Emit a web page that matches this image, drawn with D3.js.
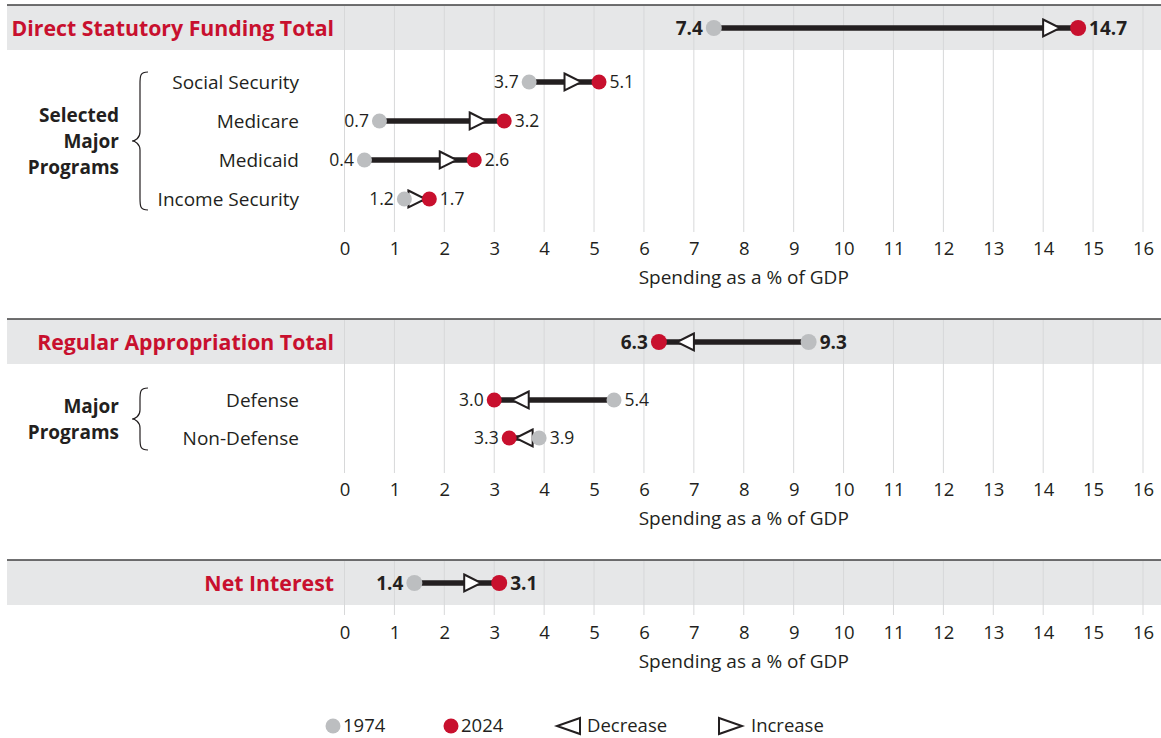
<!DOCTYPE html>
<html>
<head>
<meta charset="utf-8">
<script src="https://cdn.jsdelivr.net/npm/d3@7"></script>
<style>
  body { margin: 0; background: #fff; }
  svg { display: block; font-family: "Open Sans", "Noto Sans", sans-serif; }
</style>
</head>
<body>
<svg id="chart" width="1161" height="738"></svg>
<script>
// ---- data ----
const tickValues = [0, 1, 2, 3, 4, 5, 6, 7, 8, 9, 10, 11, 12, 13, 14, 15, 16]
const axisTitle = 'Spending as a % of GDP'

const dsfTitle = 'Direct Statutory Funding Total'
const dsfTotal = [7.4, 14.7] // 1974, 2024
const dsfRows = ['Social Security', 'Medicare', 'Medicaid', 'Income Security']
const dsf1974 = [3.7, 0.7, 0.4, 1.2]
const dsf2024 = [5.1, 3.2, 2.6, 1.7]
const dsfGroup = ['Selected', 'Major', 'Programs']

const raTitle = 'Regular Appropriation Total'
const raTotal = [9.3, 6.3]
const raRows = ['Defense', 'Non-Defense']
const ra1974 = [5.4, 3.9]
const ra2024 = [3.0, 3.3]
const raGroup = ['Major', 'Programs']

const niTitle = 'Net Interest'
const niTotal = [1.4, 3.1]

const legendItems = ['1974', '2024', 'Decrease', 'Increase']

// ---- setup ----
const svg = d3.select('#chart')
const ink = '#231f20'
const grey = '#bcbec0'
const red = '#c8102e'
const x = d3.scaleLinear().domain([0, 16]).range([344.5, 1143])

function brace(g, y0, y1) {
  let xr = 148, xs = 140, xp = 132
  let mid = (y0 + y1) / 2
  let p = `M${xr},${y0} C${xs},${y0} ${xs},${y0 + 4} ${xs},${y0 + 12} L${xs},${mid - 9}` +
    ` C${xs},${mid - 3} ${xp + 3},${mid} ${xp},${mid} C${xp + 3},${mid} ${xs},${mid + 3} ${xs},${mid + 9}` +
    ` L${xs},${y1 - 12} C${xs},${y1 - 4} ${xs},${y1} ${xr},${y1}`
  g.append('path').attr('d', p).attr('fill', 'none').attr('stroke', ink).attr('stroke-width', 1.2)
}

// dumbbell: a = 1974 value, b = 2024 value
function dumbbell(g, y, a, b, big) {
  let r = big ? 8 : 7.5
  let tw = 17
  let th = 17
  let up = b > a
  let dir = up ? 1 : -1
  g.append('line')
    .attr('x1', x(a)).attr('x2', x(b)).attr('y1', y).attr('y2', y)
    .attr('stroke', ink).attr('stroke-width', 5.5)
  // arrow triangle: sits just before the 2024 dot, or centred when the gap is short
  let tip
  if (Math.abs(x(b) - x(a)) < 50) {
    tip = (x(a) + x(b)) / 2 + dir * tw / 2
  } else {
    tip = x(b) - dir * (r + 10)
  }
  let base = tip - dir * tw
  g.append('path')
    .attr('d', `M${base},${y - th / 2} L${tip},${y} L${base},${y + th / 2} Z`)
    .attr('fill', '#fff').attr('stroke', ink).attr('stroke-width', 2).attr('stroke-linejoin', 'miter')
  g.append('circle').attr('cx', x(a)).attr('cy', y).attr('r', r).attr('fill', grey)
  g.append('circle').attr('cx', x(b)).attr('cy', y).attr('r', r).attr('fill', red)
  let lo = Math.min(a, b), hi = Math.max(a, b)
  let fmt = d3.format('.1f')
  let fs = big ? 19 : 17.5
  g.append('text').attr('x', x(lo) - r - 3).attr('y', y).attr('dy', '0.36em')
    .attr('text-anchor', 'end').attr('font-size', fs).attr('font-weight', big ? 700 : 400)
    .attr('fill', ink).text(fmt(lo))
  g.append('text').attr('x', x(hi) + r + 3).attr('y', y).attr('dy', '0.36em')
    .attr('text-anchor', 'start').attr('font-size', fs).attr('font-weight', big ? 700 : 400)
    .attr('fill', ink).text(fmt(hi))
}

function panel(top, title, total, rows, v74, v24, group, rowYs, gridBottom, axisY, braceY) {
  let g = svg.append('g')
  g.append('rect').attr('x', 7).attr('y', top).attr('width', 1154).attr('height', 45).attr('fill', '#e6e7e8')
  g.append('line').attr('x1', 7).attr('x2', 1161).attr('y1', top).attr('y2', top)
    .attr('stroke', '#414042').attr('stroke-width', 1.5)
  g.selectAll('.grid').data(tickValues).enter().append('line')
    .attr('x1', d => x(d)).attr('x2', d => x(d))
    .attr('y1', top + 1).attr('y2', gridBottom)
    .attr('stroke', '#d7d8d9').attr('stroke-width', 1)
  g.append('text').attr('x', 334).attr('y', top + 23).attr('dy', '0.36em')
    .attr('text-anchor', 'end').attr('font-size', 21.3).attr('font-weight', 700)
    .attr('fill', red).text(title)
  dumbbell(g, top + 23, total[0], total[1], true)

  rows.forEach(function (name, i) {
    g.append('text').attr('x', 299).attr('y', rowYs[i]).attr('dy', '0.36em')
      .attr('text-anchor', 'end').attr('font-size', 19).attr('fill', ink).text(name)
    dumbbell(g, rowYs[i], v74[i], v24[i], false)
  })
  if (group) {
    let mid = (braceY[0] + braceY[1]) / 2
    let lh = 26
    group.forEach(function (t, i) {
      g.append('text').attr('x', 119).attr('y', mid + (i - (group.length - 1) / 2) * lh).attr('dy', '0.36em')
        .attr('text-anchor', 'end').attr('font-size', 19).attr('font-weight', 700).attr('fill', ink).text(t)
    })
    brace(g, braceY[0], braceY[1])
  }

  let axis = d3.axisBottom(x).tickValues(tickValues).tickSize(0).tickPadding(0).tickFormat(d3.format('d'))
  let ag = g.append('g').attr('transform', `translate(0,${axisY})`).call(axis)
  ag.select('.domain').remove()
  ag.selectAll('text').attr('font-size', 18.5).attr('font-family', '"Open Sans", "Noto Sans", sans-serif')
    .attr('fill', ink).attr('dy', '0.36em').attr('y', 0)
  g.append('text').attr('x', x(8)).attr('y', axisY + 29).attr('dy', '0.36em')
    .attr('text-anchor', 'middle').attr('font-size', 19).attr('fill', ink).text(axisTitle)
}

panel(5, dsfTitle, dsfTotal, dsfRows, dsf1974, dsf2024, dsfGroup, [82, 121, 160, 199], 232, 248, [72, 210])
panel(319, raTitle, raTotal, raRows, ra1974, ra2024, raGroup, [400, 438], 473, 489, [388, 450])
panel(560, niTitle, niTotal, [], [], [], null, [], 615, 632, null)

// ---- legend ----
let lg = svg.append('g').attr('transform', 'translate(0,725)')
lg.append('circle').attr('cx', 333).attr('cy', 1).attr('r', 7.5).attr('fill', grey)
lg.append('text').attr('x', 343).attr('dy', '0.36em').attr('font-size', 18.5).attr('fill', ink).text(legendItems[0])
lg.append('circle').attr('cx', 451).attr('cy', 1).attr('r', 7.5).attr('fill', red)
lg.append('text').attr('x', 461).attr('dy', '0.36em').attr('font-size', 18.5).attr('fill', ink).text(legendItems[1])
lg.append('path').attr('d', 'M580,-7 L557,1 L580,9 Z').attr('fill', '#fff').attr('stroke', ink).attr('stroke-width', 2)
lg.append('text').attr('x', 587).attr('dy', '0.36em').attr('font-size', 18.5).attr('fill', ink).text(legendItems[2])
lg.append('path').attr('d', 'M719,-7 L742,1 L719,9 Z').attr('fill', '#fff').attr('stroke', ink).attr('stroke-width', 2)
lg.append('text').attr('x', 751).attr('dy', '0.36em').attr('font-size', 18.5).attr('fill', ink).text(legendItems[3])
</script>
</body>
</html>
